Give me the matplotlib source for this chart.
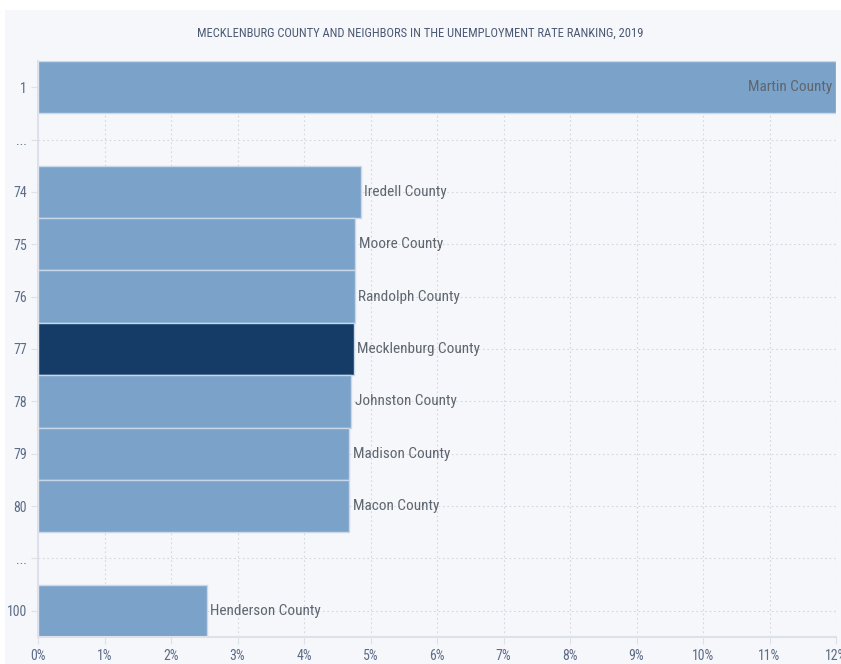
import matplotlib.pyplot as plt
from matplotlib import font_manager
from matplotlib.patches import Rectangle
from matplotlib.ticker import FuncFormatter

rangos = ['1', '...', '74', '75', '76', '77', '78', '79', '80', '...', '100']
condados = ['Martin County', None, 'Iredell County', 'Moore County', 'Randolph County',
            'Mecklenburg County', 'Johnston County', 'Madison County', 'Macon County',
            None, 'Henderson County']
tasas = [12.0, None, 4.85, 4.77, 4.76, 4.75, 4.71, 4.68, 4.68, None, 2.54]
destacado = 'Mecklenburg County'

# buscar una fuente estrecha entre las instaladas
nombres = sorted({f.name for f in font_manager.fontManager.ttflist})
estrechas = [n for n in nombres if 'Condensed' in n or 'Narrow' in n]
preferidas = ['Roboto Condensed', 'Liberation Sans Narrow', 'DejaVu Sans Condensed']
elegida = next((n for n in preferidas if n in nombres), estrechas[0] if estrechas else None)
estirar = 'normal'
if elegida is None:
    # sin familia estrecha: pedir variante condensada de DejaVu
    elegida = 'DejaVu Sans'
    estirar = 'condensed'
plt.rcParams['font.family'] = [elegida, 'DejaVu Sans']
plt.rcParams['font.stretch'] = estirar

fig = plt.figure(figsize=(8.41, 6.64), dpi=100)
fig.patch.set_facecolor('white')
# panel de fondo
fig.patches.append(Rectangle((5 / 841, 0), 1, 1 - 10 / 664, transform=fig.transFigure,
                             facecolor='#f6f7fa', edgecolor='none', zorder=-1))

ax = fig.add_axes([38 / 841, 1 - 637 / 664, 798 / 841, 576 / 664])
ax.set_facecolor('#f6f7fa')

y = list(range(len(rangos)))
for i, (c, v) in enumerate(zip(condados, tasas)):
    if v is None:
        continue
    color = '#143c66' if c == destacado else '#7ba2c9'
    ax.barh(i, v, height=1.0, color=color, edgecolor='#c9d8e9', linewidth=1, zorder=2)
    if v > 11:
        ax.text(v - 0.05, i, c, ha='right', va='center', fontsize=11, color='#5f6670', zorder=3)
    else:
        ax.text(v + 0.05, i, c, ha='left', va='center', fontsize=11, color='#5f6670', zorder=3)

ax.set_xlim(0, 12)
ax.set_ylim(len(rangos) - 0.5, -0.5)
ax.set_yticks(y)
ax.set_yticklabels(rangos)
ax.set_xticks(range(13))
ax.xaxis.set_major_formatter(FuncFormatter(lambda v, p: f'{int(v)}%'))

ax.grid(True, color='#d3d8e0', linestyle=(0, (1.5, 2.5)), linewidth=0.8, zorder=0)
ax.set_axisbelow(True)
for lado in ['top', 'right']:
    ax.spines[lado].set_visible(False)
ax.spines['left'].set_color('#dde2ea')
ax.spines['bottom'].set_color('#dde2ea')
ax.spines['left'].set_linewidth(1.5)
ax.spines['bottom'].set_linewidth(1.5)
ax.tick_params(colors='#dde2ea', labelcolor='#5d6c88', labelsize=10, length=5)
ax.tick_params(axis='y', pad=3)
ax.tick_params(axis='x', pad=4)

fig.text(0.5, 1 - 33 / 664, 'MECKLENBURG COUNTY AND NEIGHBORS IN THE UNEMPLOYMENT RATE RANKING, 2019',
         ha='center', va='center', fontsize=9, color='#4c5a74')

fig.savefig('out.png', dpi=100, facecolor=fig.get_facecolor())
